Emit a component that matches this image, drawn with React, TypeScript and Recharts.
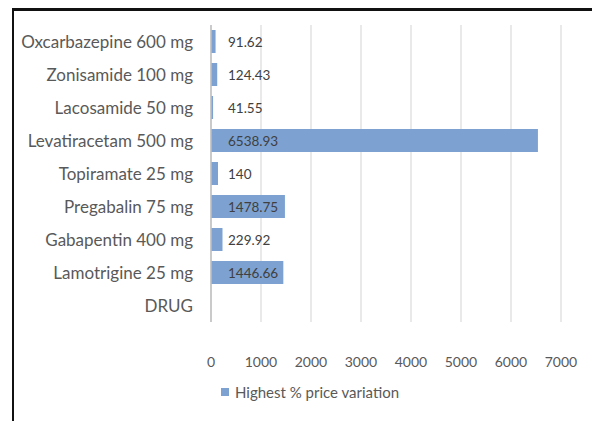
import { Bar, BarChart, CartesianGrid, LabelList, Legend, XAxis, YAxis } from "recharts";

const drugs = [
  "Oxcarbazepine 600 mg",
  "Zonisamide 100 mg",
  "Lacosamide 50 mg",
  "Levatiracetam 500 mg",
  "Topiramate 25 mg",
  "Pregabalin 75 mg",
  "Gabapentin 400 mg",
  "Lamotrigine 25 mg",
  "DRUG",
];
const variation: (number | null)[] = [91.62, 124.43, 41.55, 6538.93, 140, 1478.75, 229.92, 1446.66, null];
const xTicks = [0, 1000, 2000, 3000, 4000, 5000, 6000, 7000];
const seriesName = "Highest % price variation";

const data = drugs.map((drug, i) => ({ drug, value: variation[i] }));

const FONT = "Lato, 'Open Sans', sans-serif";

function ValueLabel(props: any) {
  const { x, y, height, value } = props;
  if (value == null) return null;
  return (
    <text x={x + 17} y={y + height / 2} dy={5} fontSize={13.5} fill="#404040" fontFamily={FONT}>
      {value}
    </text>
  );
}

function LegendBox() {
  return (
    <div style={{ display: "flex", alignItems: "center", fontFamily: FONT, fontSize: 15, color: "#595959" }}>
      <span style={{ width: 8, height: 8, background: "#7da2d2", marginRight: 6, display: "inline-block" }} />
      {seriesName}
    </div>
  );
}

export default function App() {
  return (
    <div style={{ position: "relative", width: 592, height: 421, background: "#fff", overflow: "hidden" }}>
      <style>{`html,body{margin:0;padding:0}`}</style>
      <svg width={592} height={421} style={{ position: "absolute", left: 0, top: 0 }}>
        <rect x={12} y={8} width={580} height={3} fill="#111" />
        <rect x={12} y={8} width={2} height={413} fill="#111" />
      </svg>
      <BarChart
        layout="vertical"
        width={592}
        height={421}
        data={data}
        margin={{ top: 25, right: 31, left: 0, bottom: 46 }}
      >
        <CartesianGrid horizontal={false} stroke="#e2e2e2" strokeWidth={1.5} />
        <XAxis
          type="number"
          domain={[0, 7000]}
          ticks={xTicks}
          axisLine={false}
          tickLine={false}
          tickMargin={29}
          height={35}
          tick={{ fill: "#595959", fontSize: 14, fontFamily: FONT }}
        />
        <YAxis
          type="category"
          dataKey="drug"
          width={211}
          axisLine={{ stroke: "#bfbfbf", strokeWidth: 1.5 }}
          tickLine={false}
          tickMargin={12}
          tick={{ fill: "#595959", fontSize: 17, fontFamily: FONT }}
        />
        <Legend
          content={LegendBox}
          wrapperStyle={{ position: "absolute", left: 221, top: 383, width: "auto" }}
        />
        <Bar dataKey="value" name={seriesName} fill="#7da2d2" barSize={23} isAnimationActive={false}>
          <LabelList dataKey="value" content={ValueLabel} />
        </Bar>
      </BarChart>
    </div>
  );
}
